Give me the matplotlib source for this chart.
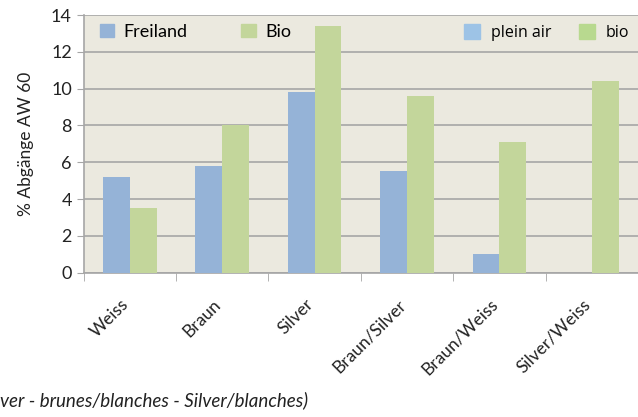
import matplotlib.pyplot as plt
import numpy as np
from matplotlib.patches import Patch

categories = ["Weiss", "Braun", "Silver", "Braun/Silver", "Braun/Weiss", "Silver/Weiss"]
freiland = [5.2, 5.8, 9.8, 5.55, 1.0, 0.0]
bio = [3.5, 8.0, 13.4, 9.6, 7.1, 10.4]
y_ticks = [0, 2, 4, 6, 8, 10, 12, 14]

blue = "#95b3d7"
green = "#c3d69b"
bg = "#ebe9df"
grid = "#a6a6a6"

plt.rcParams["font.family"] = ["Lato", "DejaVu Sans"]

fig = plt.figure(figsize=(6.38, 4.17), dpi=100)
ax = fig.add_axes([0.131, 0.346, 0.869, 0.618])
ax.set_facecolor(bg)

x = np.arange(len(categories))
w = 0.29
ax.bar(x - w / 2, freiland, width=w, color=blue, zorder=3)
ax.bar(x + w / 2, bio, width=w, color=green, zorder=3)

ax.set_xlim(-0.5, len(categories) - 0.5)
ax.set_ylim(0, 14)
ax.set_yticks(y_ticks)
ax.yaxis.grid(True, color=grid, linewidth=1.2, zorder=0)
ax.tick_params(axis="y", labelsize=13, length=5, color=grid, labelcolor="#222222")

ax.set_xticks(x)
ax.set_xticklabels([])
ax.set_xticks(np.arange(-0.5, len(categories)), minor=True)
ax.tick_params(axis="x", which="major", length=0)
ax.tick_params(axis="x", which="minor", length=6, color=grid)
for xi, lab in zip(x, categories):
    ax.annotate(lab, xy=(xi, 0), xycoords=("data", "axes fraction"),
                xytext=(-3, -21), textcoords="offset points",
                rotation=45, ha="right", va="center", rotation_mode="anchor",
                fontsize=12.5, color="#222222")

for side in ["top", "right"]:
    ax.spines[side].set_visible(False)
for side in ["left", "bottom"]:
    ax.spines[side].set_color(grid)
    ax.spines[side].set_linewidth(1.2)

ax.set_ylabel("% Abgänge AW 60", fontsize=12.5, color="#222222", labelpad=12)

leg1 = ax.legend(handles=[Patch(color=blue, label="Freiland"), Patch(color=green, label="Bio")],
                 loc="upper left", bbox_to_anchor=(0.0, 1.03), ncol=2, frameon=False,
                 fontsize=13, handlelength=0.8, handleheight=0.8, handletextpad=0.5,
                 columnspacing=3.0)
ax.add_artist(leg1)
ax.legend(handles=[Patch(color="#9dc3e6", label="plein air"), Patch(color="#b8d98f", label="bio")],
          loc="upper left", bbox_to_anchor=(0.66, 1.02), ncol=2, frameon=False,
          prop={"family": "Open Sans", "size": 11.5},
          handlelength=1.0, handleheight=1.0, handletextpad=0.7, columnspacing=1.7)

fig.text(0.0, 0.04, "ver - brunes/blanches - Silver/blanches)", fontsize=13.5,
         style="italic", color="#222222", ha="left", va="center")

fig.savefig("out.png", dpi=100)
